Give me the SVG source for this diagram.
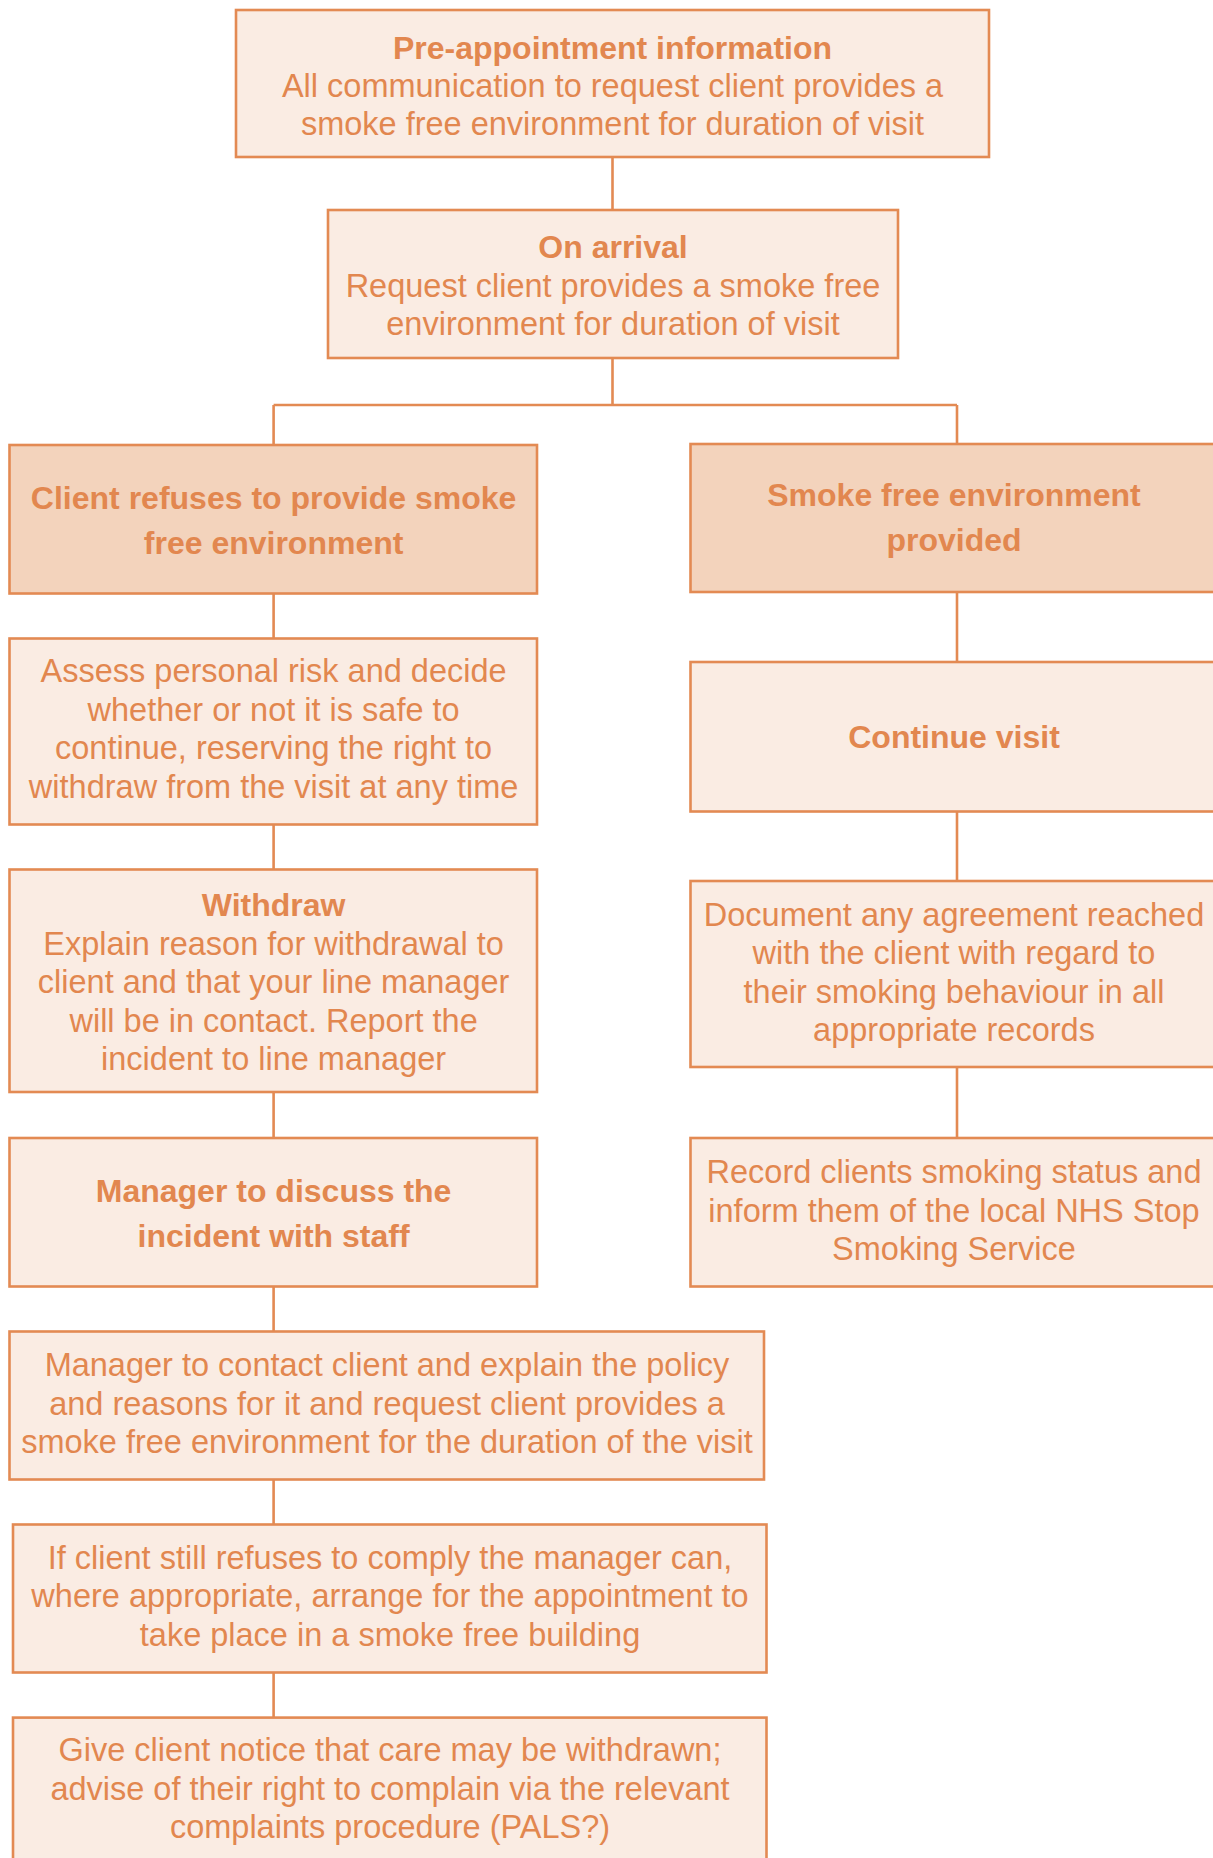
<svg xmlns="http://www.w3.org/2000/svg" width="1213" height="1858" viewBox="0 0 1213 1858">
<style>
.box{fill:#faece3;stroke:#e38a53;stroke-width:2.6}
.dark{fill:#f3d3bc;stroke:#e38a53;stroke-width:2.6}
text{font-family:"Liberation Sans",Arial,sans-serif;fill:#e2874f;text-anchor:middle}
.r{font-size:32.5px;font-weight:normal}
.b{font-size:32px;font-weight:bold}
#connectors path{fill:none;stroke:#e38a53;stroke-width:2.6}
</style>
<rect width="1213" height="1858" fill="#ffffff"/>
<g id="connectors">
<path d="M612.5 157V210"/>
<path d="M612.5 358V405M273.6 405H957M273.6 405V445M957 405V444"/>
<path d="M273.6 593.5V638.5M273.6 824.5V869.5M273.6 1092V1138M273.6 1286.5V1331.5M273.6 1479.5V1524.5M273.6 1672.5V1717.6"/>
<path d="M957 592V662M957 811.5V881M957 1067V1138"/>
</g>
<g id="pre-appointment">
<rect class="box" x="236" y="10" width="753" height="147"/>
<text class="b" x="612.5" y="58.5">Pre-appointment information</text>
<text class="r" x="612.5" y="96.5">All communication to request client provides a</text>
<text class="r" x="612.5" y="134.5">smoke free environment for duration of visit</text>
</g>
<g id="on-arrival">
<rect class="box" x="328" y="210" width="570" height="148"/>
<text class="b" x="613" y="257.5">On arrival</text>
<text class="r" x="613" y="296.5">Request client provides a smoke free</text>
<text class="r" x="613" y="334.5">environment for duration of visit</text>
</g>
<g id="client-refuses">
<rect class="dark" x="9.5" y="445" width="527.5" height="148.5"/>
<text class="b" x="273.6" y="508.5">Client refuses to provide smoke</text>
<text class="b" x="273.6" y="553.5">free environment</text>
</g>
<g id="smoke-free-provided">
<rect class="dark" x="690.5" y="444" width="527.5" height="148"/>
<text class="b" x="954" y="506">Smoke free environment</text>
<text class="b" x="954" y="551">provided</text>
</g>
<g id="assess-risk">
<rect class="box" x="9.5" y="638.5" width="527.5" height="186"/>
<text class="r" x="273.6" y="681.5">Assess personal risk and decide</text>
<text class="r" x="273.6" y="720.5">whether or not it is safe to</text>
<text class="r" x="273.6" y="758.5">continue, reserving the right to</text>
<text class="r" x="273.6" y="797.5">withdraw from the visit at any time</text>
</g>
<g id="continue-visit">
<rect class="box" x="690.5" y="662" width="527.5" height="149.5"/>
<text class="b" x="954" y="748">Continue visit</text>
</g>
<g id="withdraw">
<rect class="box" x="9.5" y="869.5" width="527.5" height="222.5"/>
<text class="b" x="273.6" y="916">Withdraw</text>
<text class="r" x="273.6" y="955">Explain reason for withdrawal to</text>
<text class="r" x="273.6" y="993">client and that your line manager</text>
<text class="r" x="273.6" y="1032">will be in contact. Report the</text>
<text class="r" x="273.6" y="1070">incident to line manager</text>
</g>
<g id="document-agreement">
<rect class="box" x="690.5" y="881" width="527.5" height="186"/>
<text class="r" x="954" y="925.5">Document any agreement reached</text>
<text class="r" x="954" y="963.5">with the client with regard to</text>
<text class="r" x="954" y="1002.5">their smoking behaviour in all</text>
<text class="r" x="954" y="1040.5">appropriate records</text>
</g>
<g id="manager-discuss">
<rect class="box" x="9.5" y="1138" width="527.5" height="148.5"/>
<text class="b" x="273.6" y="1201.5">Manager to discuss the</text>
<text class="b" x="273.6" y="1246.5">incident with staff</text>
</g>
<g id="record-status">
<rect class="box" x="690.5" y="1138" width="527.5" height="148.5"/>
<text class="r" x="954" y="1182.5">Record clients smoking status and</text>
<text class="r" x="954" y="1221.5">inform them of the local NHS Stop</text>
<text class="r" x="954" y="1259.5">Smoking Service</text>
</g>
<g id="manager-contact">
<rect class="box" x="9.5" y="1331.5" width="754.5" height="148"/>
<text class="r" x="387" y="1375.5">Manager to contact client and explain the policy</text>
<text class="r" x="387" y="1414.5">and reasons for it and request client provides a</text>
<text class="r" x="387" y="1452.5">smoke free environment for the duration of the visit</text>
</g>
<g id="still-refuses">
<rect class="box" x="13" y="1524.5" width="753.5" height="148"/>
<text class="r" x="390" y="1568.5">If client still refuses to comply the manager can,</text>
<text class="r" x="390" y="1606.5">where appropriate, arrange for the appointment to</text>
<text class="r" x="390" y="1645.5">take place in a smoke free building</text>
</g>
<g id="give-notice">
<rect class="box" x="13" y="1717.6" width="753.5" height="160"/>
<text class="r" x="390" y="1760.5">Give client notice that care may be withdrawn;</text>
<text class="r" x="390" y="1799.5">advise of their right to complain via the relevant</text>
<text class="r" x="390" y="1837.5">complaints procedure (PALS?)</text>
</g>
</svg>
